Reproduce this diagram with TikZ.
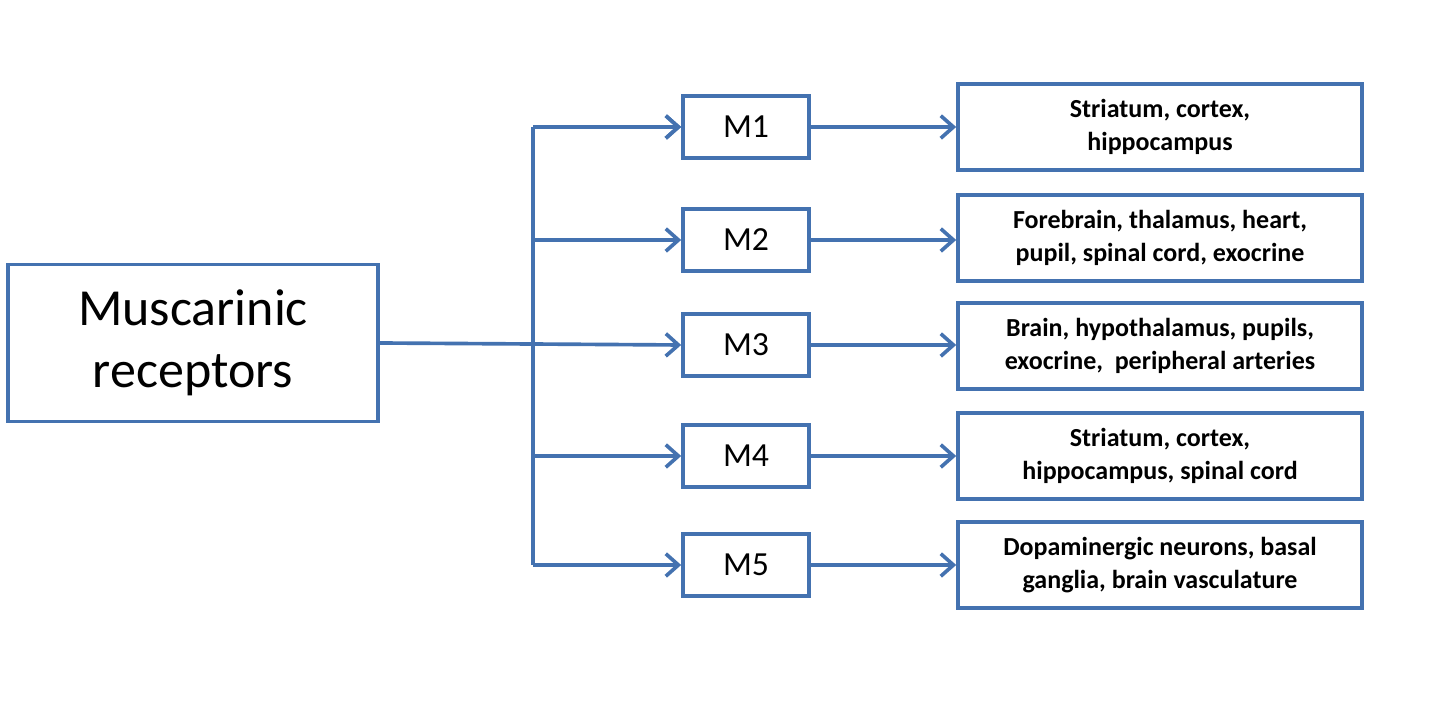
\documentclass[tikz,border=0pt]{standalone}
\usepackage{fontspec}
\setmainfont{Carlito}
\usetikzlibrary{positioning, arrows.meta}
\definecolor{boxblue}{RGB}{68,114,176}
\tikzset{
	box/.style={draw=boxblue, line width=2.6pt, align=center, inner sep=2pt},
	sub/.style={box, minimum width=3.15cm, minimum height=1.55cm, font=\fontsize{24}{28}\selectfont},
	site/.style={box, minimum width=10.1cm, minimum height=2.15cm, font=\bfseries\fontsize{18.5}{23}\selectfont},
	link/.style={draw=boxblue, line width=2.6pt, -{Straight Barb[length=9pt,width=16pt,line width=2.6pt]}}
}

\begin{document}
\begin{tikzpicture}
\useasboundingbox (0,0) rectangle (36,17.7);
\node[box, minimum width=9.25cm, minimum height=3.925cm, font=\fontsize{37}{44}\selectfont] (mr) at (4.825,9.125) {Muscarinic\\receptors};

\node[sub] (m1) at (18.65,14.525) {M1};
\node[sub] (m2) at (18.65,11.7) {M2};
\node[sub] (m3) at (18.65,9.075) {M3};
\node[sub] (m4) at (18.65,6.3) {M4};
\node[sub] (m5) at (18.65,3.575) {M5};

\node[site] (s1) at (29,14.525) {Striatum, cortex,\\hippocampus};
\node[site] (s2) at (29,11.75) {Forebrain, thalamus, heart,\\pupil, spinal cord, exocrine};
\node[site] (s3) at (29,9.05) {Brain, hypothalamus, pupils,\\exocrine,\ \ peripheral arteries};
\node[site] (s4) at (29,6.3) {Striatum, cortex,\\hippocampus, spinal cord};
\node[site] (s5) at (29,3.575) {Dopaminergic neurons, basal\\ganglia, brain vasculature};

\coordinate (top) at (13.325,14.525);
\coordinate (bot) at (13.325,3.575);
\draw[draw=boxblue, line width=2.6pt] (top) -- (bot);
\draw[link] (mr.east) -- (m3.west);
\foreach \i in {1,2,4,5}
	\draw[link] (13.325,0|-m\i.west) -- (m\i.west);
\draw[link] (top) -- (m1.west);
\foreach \i in {1,...,5}
	\draw[link] (m\i.east) -- (s\i.west|-m\i.east);
\end{tikzpicture}
\end{document}
